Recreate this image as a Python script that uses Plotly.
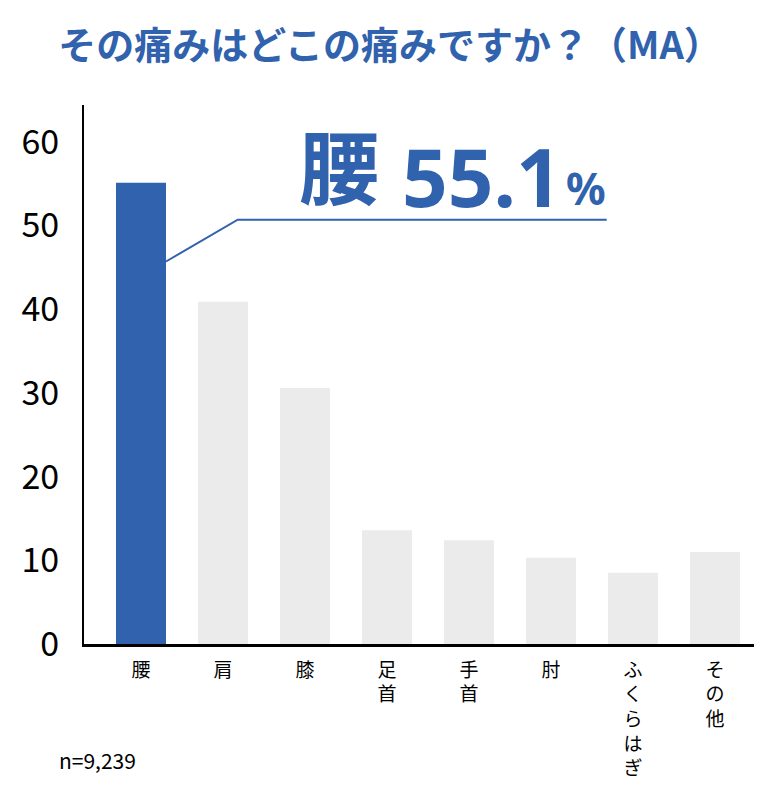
import plotly.graph_objects as go

# ---- data ----
categories = ["腰", "肩", "膝", "足首", "手首", "肘", "ふくらはぎ", "その他"]
values = [55.1, 40.9, 30.6, 13.6, 12.4, 10.3, 8.5, 11.0]
highlight_index = 0
y_ticks = [0, 10, 20, 30, 40, 50, 60]
title_text = "その痛みはどこの痛みですか？（MA）"
note_text = "n=9,239"

BLUE = "#3062AD"
GREY = "#EBEBEB"

tick_text = ["<br>".join(list(c)) for c in categories]
colors = [BLUE if i == highlight_index else GREY for i in range(len(categories))]
xs = list(range(len(categories)))

fig = go.Figure()
fig.add_trace(go.Bar(
    x=xs, y=values, marker=dict(color=colors, line=dict(width=0)),
    width=0.61, hoverinfo="skip", showlegend=False,
))

L, R, T, B = 84, 26, 105, 156
W, H = 780, 800

fig.update_layout(
    width=W, height=H,
    margin=dict(l=L, r=R, t=T, b=B, pad=0),
    paper_bgcolor="white", plot_bgcolor="white",
    font=dict(family="Noto Sans CJK JP", color="black"),
    title=dict(
        text=title_text, x=0.5, xanchor="center", xref="container",
        y=1 - 46 / H, yanchor="middle", yref="container",
        font=dict(size=38, color=BLUE, family="Noto Sans CJK JP", weight="bold"),
    ),
    xaxis=dict(
        tickmode="array", tickvals=xs, ticktext=tick_text,
        range=[-0.695, 7.476], showgrid=False, zeroline=False,
        showline=True, linecolor="black", linewidth=2.5,
        ticks="", tickfont=dict(size=19, family="Noto Sans CJK JP", color="black"),
        ticklabelstandoff=7, fixedrange=True,
    ),
    yaxis=dict(
        range=[0, 64.4], tickmode="array", tickvals=y_ticks,
        showgrid=False, zeroline=False,
        showline=True, linecolor="black", linewidth=2,
        ticks="", tickfont=dict(size=34, family="Noto Sans CJK JP", color="black"),
        ticklabelstandoff=16, fixedrange=True,
    ),
)

bar_half = 0.305
leader = dict(x0=highlight_index + bar_half, y0=45.7, xm=1.18, ym=50.7, x1=5.68)
fig.add_shape(
    type="path", xref="x", yref="y",
    path=f"M {leader['x0']},{leader['y0']} L {leader['xm']},{leader['ym']} L {leader['x1']},{leader['ym']}",
    line=dict(color=BLUE, width=2),
)

def px_x(p):
    return (p - L) / (W - L - R)

def px_y(p):
    return (H - B - p) / (H - T - B)

callout_cat = categories[highlight_index]
callout_val = f"{values[highlight_index]:.1f}"
NUM_FONT = "Noto Sans"

fig.add_annotation(
    text=callout_cat, xref="paper", yref="paper",
    x=px_x(339), y=px_y(163), xanchor="center", yanchor="middle",
    showarrow=False,
    font=dict(size=80, color=BLUE, family="Noto Sans CJK JP", weight="bold"),
)
fig.add_annotation(
    text=callout_val, xref="paper", yref="paper",
    x=px_x(400), y=px_y(175), xanchor="left", yanchor="middle",
    showarrow=False,
    font=dict(size=80, color=BLUE, family=NUM_FONT, weight="bold"),
)
fig.add_annotation(
    text="%", xref="paper", yref="paper",
    x=px_x(608), y=px_y(188), xanchor="right", yanchor="middle",
    showarrow=False,
    font=dict(size=44, color=BLUE, family=NUM_FONT, weight="bold"),
)

fig.add_annotation(
    text=note_text, xref="paper", yref="paper",
    x=px_x(57), y=px_y(760), xanchor="left", yanchor="middle",
    showarrow=False,
    font=dict(size=21, color="black", family="Noto Sans CJK JP"),
)

fig.write_html("out.html")
